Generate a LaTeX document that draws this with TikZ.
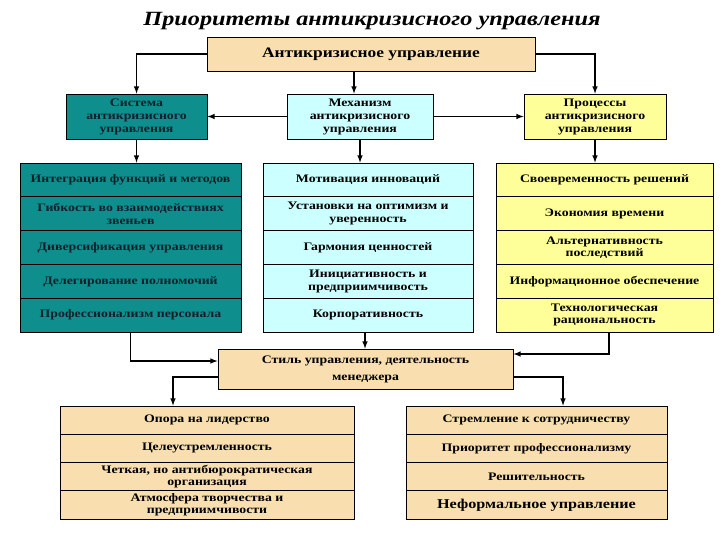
\documentclass[tikz,border=0pt]{standalone}
\usepackage{fontspec}
\setmainfont{Liberation Serif}[FakeStretch=1.2]
\usetikzlibrary{arrows,positioning,calc}
\definecolor{wheatbox}{HTML}{F9DFAF}
\definecolor{tealbox}{HTML}{0F8E8E}
\definecolor{cyanbox}{HTML}{CCFFFF}
\definecolor{yellowbox}{HTML}{FFFF99}
\definecolor{inkdark}{HTML}{10202A}
\tikzset{>=latex}
\tikzset{
  hbox/.style={draw, line width=0.8pt, align=center, inner sep=1pt,
    font=\bfseries\fontsize{11.5}{13}\selectfont},
  cell/.style={draw, line width=0.8pt, align=center, inner sep=1pt,
    font=\bfseries\fontsize{11.5}{12.5}\selectfont},
  arrowline/.style={->, line width=1.5pt}
}

\begin{document}
\begin{tikzpicture}[x=1pt,y=-1pt]
  \useasboundingbox (0,0) rectangle (720,540);
  \node[font=\bfseries\itshape\fontsize{20.2}{24}\selectfont] (title) at (372,21)
    {Приоритеты антикризисного управления};
  % upper level
  \node[hbox, fill=wheatbox, minimum width=328, minimum height=34,
    font=\bfseries\fontsize{14.5}{16}\selectfont] (top) at (371,54) {Антикризисное управление};
  \node[hbox, fill=tealbox, text=inkdark, minimum width=141, minimum height=45] (sys) at (136.5,116.5)
    {Система\\антикризисного\\управления};
  \node[hbox, fill=cyanbox, minimum width=146, minimum height=45] (mech) at (360,116.5)
    {Механизм\\антикризисного\\управления};
  \node[hbox, fill=yellowbox, minimum width=142, minimum height=45] (proc) at (595,116.5)
    {Процессы\\антикризисного\\управления};
  % three columns
  \foreach \txt [count=\i] in {Интеграция функций и методов, {Гибкость во взаимодействиях\\звеньев},
      Диверсификация управления, Делегирование полномочий, Профессионализм персонала}
    \node[cell, fill=tealbox, text=inkdark, minimum width=221, minimum height=33.8]
      (l\i) at (130.5,{163+33.8*(\i-0.5)}) {\txt};
  \foreach \txt [count=\i] in {Мотивация инноваций, {Установки на оптимизм и\\уверенность},
      Гармония ценностей, {Инициативность и\\предприимчивость}, Корпоративность}
    \node[cell, fill=cyanbox, minimum width=210, minimum height=33.8]
      (m\i) at (368,{163+33.8*(\i-0.5)}) {\txt};
  \foreach \txt [count=\i] in {Своевременность решений, Экономия времени,
      {Альтернативность\\последствий}, Информационное обеспечение, {Технологическая\\рациональность}}
    \node[cell, fill=yellowbox, minimum width=217, minimum height=33.8]
      (r\i) at (604.5,{163+33.8*(\i-0.5)}) {\txt};
  % lower level
  \node[hbox, fill=wheatbox, minimum width=295, minimum height=40,
    font=\bfseries\fontsize{11.5}{17}\selectfont] (style) at (365.5,369)
    {Стиль управления, деятельность\\менеджера};
  \foreach \txt [count=\i] in {Опора на лидерство, Целеустремленность,
      {Четкая, но антибюрократическая\\организация}, {Атмосфера творчества и\\предприимчивости}}
    \node[cell, fill=wheatbox, minimum width=294, minimum height=28.25]
      (bl\i) at (207,{406+28.25*(\i-0.5)}) {\txt};
  \foreach \txt [count=\i] in {Стремление к сотрудничеству, Приоритет профессионализму,
      Решительность, {\fontsize{13.5}{15}\selectfont Неформальное управление}}
    \node[cell, fill=wheatbox, minimum width=261, minimum height=28.25]
      (br\i) at (536.5,{406+28.25*(\i-0.5)}) {\txt};
  % connectors
  \draw[arrowline] (top.west) -| (sys.north);
  \draw[arrowline] (top.east) -| (proc.north);
  \draw[arrowline] ([xshift=-6pt]top.south -| mech.north) -- ([xshift=-6pt]mech.north);
  \draw[arrowline] (mech.west) -- (sys.east);
  \draw[arrowline] (mech.east) -- (proc.west);
  \draw[arrowline] (sys.south) -- (sys.south |- l1.north);
  \draw[arrowline] (mech.south) -- (mech.south |- m1.north);
  \draw[arrowline] (proc.south) -- (proc.south |- r1.north);
  \draw[arrowline] (l5.south) |- ([yshift=8pt]style.west);
  \draw[arrowline] ([xshift=-3pt]m5.south) -- ([xshift=-3pt]m5.south |- style.north);
  \draw[arrowline] ([xshift=4.5pt]r5.south) |- ([yshift=15pt]style.east);
  \draw[arrowline] ([yshift=-8pt]style.west) -| ([xshift=-34pt]bl1.north);
  \draw[arrowline] ([yshift=-8pt]style.east) -| ([xshift=26.5pt]br1.north);
\end{tikzpicture}
\end{document}
